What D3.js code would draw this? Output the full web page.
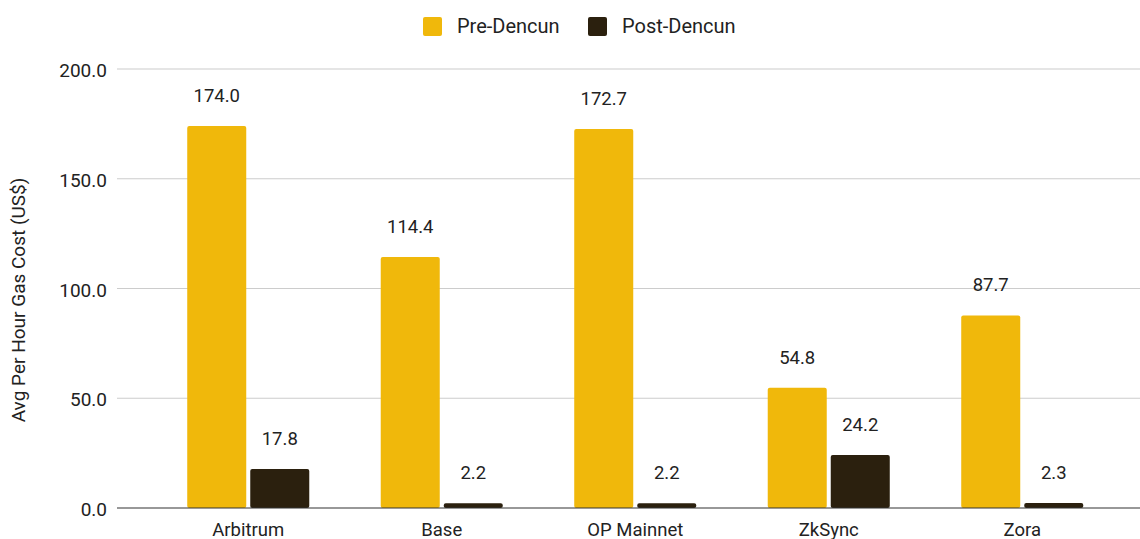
<!DOCTYPE html>
<html>
<head>
<meta charset="utf-8">
<script src="https://cdn.jsdelivr.net/npm/d3@7"></script>
<style>
  html, body { margin: 0; padding: 0; background: #fff; }
  svg text { font-family: Roboto, "Liberation Sans", Arial, sans-serif; fill: #222; }
</style>
</head>
<body>
<div id="chart"></div>
<script>
const categories = ['Arbitrum', 'Base', 'OP Mainnet', 'ZkSync', 'Zora'];
const seriesNames = ['Pre-Dencun', 'Post-Dencun'];
const preDencun = [174.0, 114.4, 172.7, 54.8, 87.7];
const postDencun = [17.8, 2.2, 2.2, 24.2, 2.3];
const yTicks = [0, 50, 100, 150, 200];
const colors = ['#F0B80B', '#2B200E'];

const width = 1140;
const height = 539;
const plotLeft = 117;
const plotRight = 1140;

const svg = d3.select('#chart')
  .append('svg')
  .attr('width', width)
  .attr('height', height);

const y = d3.scaleLinear().domain([0, 200]).range([508, 69]);

const x0 = d3.scaleBand()
  .domain(categories)
  .range([151.5, 1119]);

const x1 = d3.scaleBand()
  .domain(seriesNames)
  .range([0, x0.bandwidth()])
  .paddingInner(4 / 63)
  .paddingOuter(0.567);

// gridlines
svg.append('g')
  .selectAll('line')
  .data(yTicks.filter(d => d !== 0))
  .enter()
  .append('line')
  .attr('x1', plotLeft)
  .attr('x2', plotRight)
  .attr('y1', d => y(d))
  .attr('y2', d => y(d))
  .attr('stroke', '#cccccc')
  .attr('stroke-width', 1.2);

// y axis labels
const yAxis = svg.append('g')
  .attr('transform', `translate(${plotLeft - 10},0)`)
  .call(d3.axisLeft(y).tickValues(yTicks).tickFormat(d3.format('.1f')).tickSize(0).tickPadding(0));
yAxis.select('.domain').remove();
yAxis.selectAll('text')
  .attr('font-size', 19)
  .attr('dy', '0.4em')
  .style('font-family', 'Roboto, sans-serif')
  .style('fill', '#222');

// y axis title
svg.append('text')
  .attr('transform', 'translate(25,300) rotate(-90)')
  .attr('text-anchor', 'middle')
  .attr('font-size', 19)
  .text('Avg Per Hour Gas Cost (US$)');

const rows = categories.map((c, i) => ({
  cat: c,
  values: [
    { key: seriesNames[0], value: preDencun[i] },
    { key: seriesNames[1], value: postDencun[i] },
  ],
}));

const groups = svg.append('g')
  .selectAll('g')
  .data(rows)
  .enter()
  .append('g')
  .attr('transform', d => `translate(${x0(d.cat)},0)`);

groups.selectAll('rect')
  .data(d => d.values)
  .enter()
  .append('rect')
  .attr('x', d => x1(d.key))
  .attr('width', x1.bandwidth())
  .attr('y', d => y(d.value))
  .attr('height', d => y(0) - y(d.value))
  .attr('rx', 2)
  .attr('fill', (d, i) => colors[i]);

groups.selectAll('text.val')
  .data(d => d.values)
  .enter()
  .append('text')
  .attr('class', 'val')
  .attr('x', d => x1(d.key) + x1.bandwidth() / 2)
  .attr('y', d => y(d.value) - 24)
  .attr('text-anchor', 'middle')
  .attr('font-size', 18.5)
  .text(d => d.value.toFixed(1));

// baseline
svg.append('line')
  .attr('x1', plotLeft)
  .attr('x2', plotRight)
  .attr('y1', y(0))
  .attr('y2', y(0))
  .attr('stroke', '#333')
  .attr('stroke-width', 1.2);

// x axis labels
svg.append('g')
  .selectAll('text')
  .data(categories)
  .enter()
  .append('text')
  .attr('x', d => x0(d) + x0.bandwidth() / 2)
  .attr('y', 535.5)
  .attr('text-anchor', 'middle')
  .attr('font-size', 18.5)
  .text(d => d);

// legend
const legendX = [423, 588];
const legend = svg.append('g')
  .selectAll('g')
  .data(seriesNames)
  .enter()
  .append('g')
  .attr('transform', (d, i) => `translate(${legendX[i]},17)`);

legend.append('rect')
  .attr('width', 19)
  .attr('height', 19)
  .attr('rx', 2)
  .attr('fill', (d, i) => colors[i]);

legend.append('text')
  .attr('x', 34)
  .attr('y', 16.3)
  .attr('font-size', 20)
  .text(d => d);
</script>
</body>
</html>
